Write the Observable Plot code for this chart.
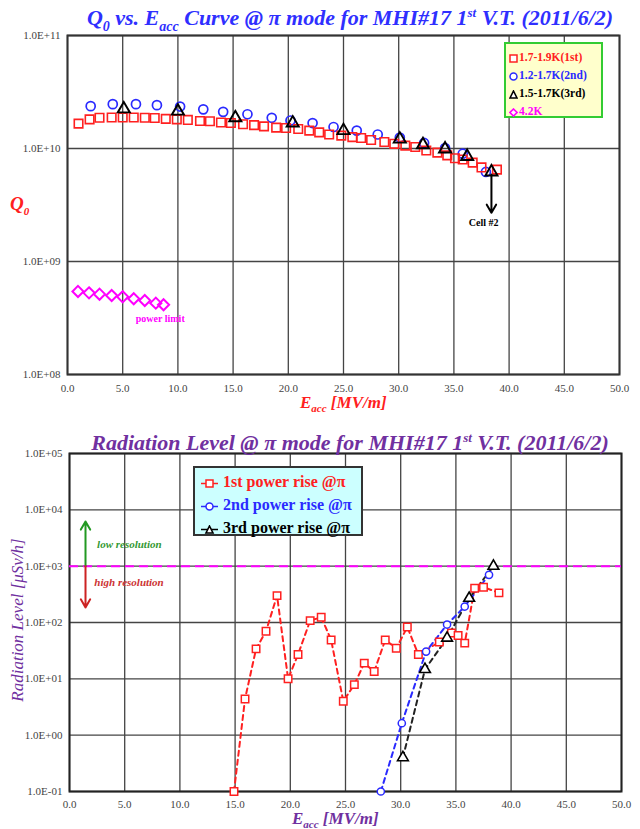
<!DOCTYPE html>
<html>
<head>
<meta charset="utf-8">
<script src="https://cdn.jsdelivr.net/npm/d3@7"></script>
<script src="https://cdn.jsdelivr.net/npm/@observablehq/plot@0.6"></script>
<style>
  html, body { margin: 0; padding: 0; background: #fff; }
  #wrap { position: relative; width: 640px; height: 829px; overflow: hidden; font-family: "Liberation Serif", "Times New Roman", Tinos, "DejaVu Serif", serif; }
  .abs { position: absolute; white-space: nowrap; }
  .title { font-weight: bold; font-style: italic; font-size: 22px; text-align: center; }
  .lbl { font-weight: bold; font-style: italic; }
  .leg1 { background: #ffffcc; border: 2px solid #33cc33; box-sizing: border-box; font-weight: bold; font-size: 11.5px; padding: 4px 0 0 3px; }
  .leg1 div { height: 18px; line-height: 18px; }
  .leg2 { background: #ccffff; border: 2px solid #333; box-sizing: border-box; font-weight: bold; font-size: 16px; padding: 2px 0 0 6px; }
  .leg2 div { height: 23px; line-height: 23px; }
  svg.sym { vertical-align: middle; margin-right: 1px; }
</style>
</head>
<body>
<div id="wrap">
  <div id="topChart" class="abs" style="left:0;top:0"></div>
  <div id="botChart" class="abs" style="left:0;top:415px"></div>
</div>
<script>
// ---------- Top chart data (Q0 vs Eacc) ----------
const q1stE = [1.0,2.0,2.9,4.0,5.0,6.0,7.0,7.9,8.9,9.9,10.9,12.0,12.9,13.9,14.8,15.9,16.9,17.8,18.9,19.8,20.9,21.9,22.8,23.7,24.8,25.8,26.6,27.5,28.7,29.6,30.6,31.5,32.5,33.5,34.4,35.1,35.8,36.7,37.5,38.9];
const q1stQ = [1.66e10,1.81e10,1.87e10,1.88e10,1.88e10,1.88e10,1.87e10,1.86e10,1.83e10,1.81e10,1.79e10,1.75e10,1.74e10,1.70e10,1.68e10,1.64e10,1.61e10,1.57e10,1.53e10,1.52e10,1.49e10,1.44e10,1.39e10,1.33e10,1.30e10,1.26e10,1.24e10,1.19e10,1.14e10,1.10e10,1.06e10,1.03e10,9.6e9,9.2e9,8.7e9,8.2e9,8.0e9,7.5e9,6.8e9,6.5e9];
const q2ndE = [2.1,4.1,6.2,8.1,10.2,12.3,14.1,16.3,18.5,20.2,22.2,24.1,26.2,28.1,30.1,32.3,34.2,35.8,37.9];
const q2ndQ = [2.37e10,2.47e10,2.47e10,2.42e10,2.35e10,2.22e10,2.11e10,2.01e10,1.87e10,1.77e10,1.68e10,1.55e10,1.44e10,1.33e10,1.25e10,1.12e10,1.01e10,9.0e9,6.2e9];
const q3rdE = [5.1,10.0,15.2,20.4,25.0,30.1,32.2,34.2,36.2,38.4];
const q3rdQ = [2.24e10,2.14e10,1.87e10,1.68e10,1.44e10,1.21e10,1.08e10,9.9e9,8.5e9,6.2e9];
const q42E = [0.95,1.95,2.9,4.0,5.0,6.0,7.0,8.0,8.7];
const q42Q = [5.43e8,5.28e8,5.14e8,5.0e8,4.87e8,4.68e8,4.52e8,4.28e8,4.14e8];
const topLegend = ["1.7-1.9K(1st)","1.2-1.7K(2nd)","1.5-1.7K(3rd)","4.2K"];
const xTicks = [0,5,10,15,20,25,30,35,40,45,50];
const qTicks = [1e8,1e9,1e10,1e11];

// ---------- Bottom chart data (radiation) ----------
const r1stE = [14.9,15.9,16.9,17.8,18.8,19.8,20.7,21.8,22.8,23.7,24.8,25.8,26.7,27.6,28.6,29.6,30.6,31.6,33.5,34.6,35.2,35.8,36.7,37.5,38.9];
const r1stR = [0.1,4.4,34,70,300,10,27,108,124,49,4.0,7.9,19,13.5,49,35,83,27,45,65,59,43,406,424,336];
const r2ndE = [28.2,30.1,32.3,34.2,35.8,38.0];
const r2ndR = [0.1,1.63,30.5,92,192,702];
const r3rdE = [30.2,32.2,34.2,36.2,38.4];
const r3rdR = [0.40,14.7,53,270,1000];
const botLegend = ["1st power rise @\u03c0","2nd power rise @\u03c0","3rd power rise @\u03c0"];
const rTicks = [1e-1,1e0,1e1,1e2,1e3,1e4,1e5];
const limitLevel = [1000];

// annotations (data coordinates)
const topNotes = [{x: 8.4, y: 3.1e8, text: "power limit", color: "#ff00ff"}, {x: 37.7, y: 2.2e9, text: "Cell #2", color: "#000"}];
const cellArrow = [{x1: 38.4, y1: 5.9e9, x2: 38.4, y2: 2.7e9}];
const resArrows = [{x1: 1.45, y1: 1000, x2: 1.45, y2: 6.2e3, color: "#229922"}, {x1: 1.45, y1: 1000, x2: 1.45, y2: 185, color: "#cc2222"}];
const resNotes = [{x: 2.5, y: 2.4e3, text: "low resolution", color: "#339933"}, {x: 2.25, y: 5.1e2, text: "high resolution", color: "#cc3333"}];

const zip = (xs, ys) => xs.map((x, i) => ({x, y: ys[i]}));
const sci = d => {
  const e = Math.round(Math.log10(d));
  return "1.0E" + (e < 0 ? "-" : "+") + String(Math.abs(e)).padStart(2, "0");
};
const RED = "#ff2020", BLUE = "#2a2aff", MAG = "#ff00ff";
const SERIF = "'Liberation Serif', 'Times New Roman', Tinos, 'DejaVu Serif', serif";
const gridStyle = {stroke: "#444", strokeWidth: 1.3};

const topPlot = Plot.plot({
  width: 640, height: 415,
  marginLeft: 67, marginRight: 21, marginTop: 35, marginBottom: 41,
  style: {fontFamily: SERIF, fontSize: "11px", color: "#444", background: "transparent"},
  x: {domain: [0, 50], ticks: xTicks, tickFormat: d => d.toFixed(1), tickSize: 0, tickPadding: 10, label: null},
  y: {type: "log", domain: [1e8, 1e11], ticks: qTicks, tickFormat: sci, tickSize: 0, tickPadding: 7, label: null},
  marks: [
    Plot.ruleX(xTicks, gridStyle),
    Plot.ruleY(qTicks, gridStyle),
    Plot.frame({stroke: "#333", strokeWidth: 2}),
    Plot.dot(zip(q42E, q42Q), {x: "x", y: "y", symbol: "diamond2", r: 5, stroke: MAG, strokeWidth: 2, fill: "none"}),
    Plot.dot(zip(q2ndE, q2ndQ), {x: "x", y: "y", symbol: "circle", r: 4.5, stroke: BLUE, strokeWidth: 1.7, fill: "none"}),
    Plot.dot(zip(q1stE, q1stQ), {x: "x", y: "y", symbol: "square", r: 4.8, stroke: RED, strokeWidth: 1.6, fill: "none"}),
    Plot.dot(zip(q3rdE, q3rdQ), {x: "x", y: "y", symbol: "triangle", r: 4.5, stroke: "#000", strokeWidth: 1.9, fill: "none"}),
    Plot.arrow(cellArrow, {x1: "x1", y1: "y1", x2: "x2", y2: "y2", stroke: "#000", strokeWidth: 2, headLength: 7}),
    Plot.text(topNotes, {x: "x", y: "y", text: "text", fill: "color", fontWeight: "bold", fontSize: 10})
  ]
});
document.getElementById("topChart").appendChild(topPlot);

const dash = "5,4";
const botPlot = Plot.plot({
  width: 640, height: 414,
  marginLeft: 69, marginRight: 19, marginTop: 38, marginBottom: 38,
  style: {fontFamily: SERIF, fontSize: "11px", color: "#444", background: "transparent"},
  x: {domain: [0, 50], ticks: xTicks, tickFormat: d => d.toFixed(1), tickSize: 0, tickPadding: 9, label: null},
  y: {type: "log", domain: [0.1, 1e5], ticks: rTicks, tickFormat: sci, tickSize: 0, tickPadding: 7, label: null},
  marks: [
    Plot.ruleX(xTicks, gridStyle),
    Plot.ruleY(rTicks, gridStyle),
    Plot.frame({stroke: "#222", strokeWidth: 2}),
    Plot.ruleY(limitLevel, {stroke: MAG, strokeWidth: 2, strokeDasharray: "9,5"}),
    Plot.line(zip(r1stE, r1stR), {x: "x", y: "y", stroke: RED, strokeWidth: 2, strokeDasharray: dash}),
    Plot.line(zip(r2ndE, r2ndR), {x: "x", y: "y", stroke: BLUE, strokeWidth: 2, strokeDasharray: dash}),
    Plot.line(zip(r3rdE, r3rdR), {x: "x", y: "y", stroke: "#222", strokeWidth: 2, strokeDasharray: dash}),
    Plot.dot(zip(r1stE, r1stR), {x: "x", y: "y", symbol: "square", r: 4.2, stroke: RED, strokeWidth: 1.5, fill: "white"}),
    Plot.dot(zip(r2ndE, r2ndR), {x: "x", y: "y", symbol: "circle", r: 3.6, stroke: BLUE, strokeWidth: 1.5, fill: "white"}),
    Plot.dot(zip(r3rdE, r3rdR), {x: "x", y: "y", symbol: "triangle", r: 4, stroke: "#000", strokeWidth: 1.6, fill: "white"}),
    Plot.arrow(resArrows, {x1: "x1", y1: "y1", x2: "x2", y2: "y2", stroke: "color", strokeWidth: 2, headLength: 7}),
    Plot.text(resNotes, {x: "x", y: "y", text: "text", fill: "color", fontWeight: "bold", fontStyle: "italic", fontSize: 11, textAnchor: "start"})
  ]
});
document.getElementById("botChart").appendChild(botPlot);

// ---------- HTML text: titles, axis labels, legends ----------
const wrap = document.getElementById("wrap");
function add(html, style, cls) {
  const d = document.createElement("div");
  d.className = "abs " + (cls || "");
  d.setAttribute("style", style);
  d.innerHTML = html;
  wrap.appendChild(d);
  return d;
}
add('Q<sub style="font-size:14px">0</sub> vs. E<sub style="font-size:14px">acc</sub> Curve @ \u03c0 mode for MHI#17 1<sup style="font-size:13px">st</sup> V.T. (2011/6/2)',
    "left:60px;top:0px;width:580px;color:#2f2fff;line-height:25px;", "title");
add('Radiation Level @ \u03c0 mode for MHI#17 1<sup style="font-size:13px">st</sup> V.T. (2011/6/2)',
    "left:60px;top:425px;width:580px;color:#7030a0;line-height:25px;", "title");
add('Q<sub style="font-size:11px">0</sub>', "left:10px;top:193px;color:#ff2020;font-size:19px;", "lbl");
add('E<sub style="font-size:11px">acc</sub> [MV/m]', "left:300px;top:393px;color:#ff2020;font-size:17px;", "lbl");
add('E<sub style="font-size:11px">acc</sub> [MV/m]', "left:292px;top:809px;color:#7030a0;font-size:17px;", "lbl");
add('Radiation Level [\u03bcSv/h]', "left:-82px;top:610px;width:200px;text-align:center;color:#7030a0;font-size:17px;font-style:italic;transform:rotate(-90deg);", "");

function sym(kind, color, size, line) {
  const s = size, c = s / 2, w = line ? s + 8 : s;
  const ox = line ? 4 : 0;
  let shape = "";
  if (kind === "square") shape = `<rect x="${ox + 1}" y="1" width="${s - 2}" height="${s - 2}" fill="white" stroke="${color}" stroke-width="1.5"/>`;
  if (kind === "circle") shape = `<circle cx="${ox + c}" cy="${c}" r="${c - 1}" fill="white" stroke="${color}" stroke-width="1.5"/>`;
  if (kind === "triangle") shape = `<path d="M${ox + c},1L${ox + s - 1},${s - 1}L${ox + 1},${s - 1}Z" fill="white" stroke="${color}" stroke-width="1.6"/>`;
  if (kind === "diamond") shape = `<path d="M${ox + c},1L${ox + s - 1},${c}L${ox + c},${s - 1}L${ox + 1},${c}Z" fill="white" stroke="${color}" stroke-width="1.6"/>`;
  const ln = line ? `<line x1="0" y1="${c}" x2="${w}" y2="${c}" stroke="${color}" stroke-width="1.5"/>` : "";
  return `<svg class="sym" width="${w}" height="${s}">${ln}${shape}</svg>`;
}
const topCols = [RED, BLUE, "#000", MAG], topSyms = ["square", "circle", "triangle", "diamond"];
add(topLegend.map((t, i) => `<div style="color:${topCols[i]}">${sym(topSyms[i], topCols[i], 9, false)}${t}</div>`).join(""),
    "left:504px;top:42px;width:99px;height:76px;", "leg1");
const botCols = [RED, BLUE, "#000"], botSyms = ["square", "circle", "triangle"];
add(botLegend.map((t, i) => `<div style="color:${botCols[i]}">${sym(botSyms[i], botCols[i], 9, true)} ${t}</div>`).join(""),
    "left:193px;top:466px;width:170px;height:70px;", "leg2");
</script>
</body>
</html>
